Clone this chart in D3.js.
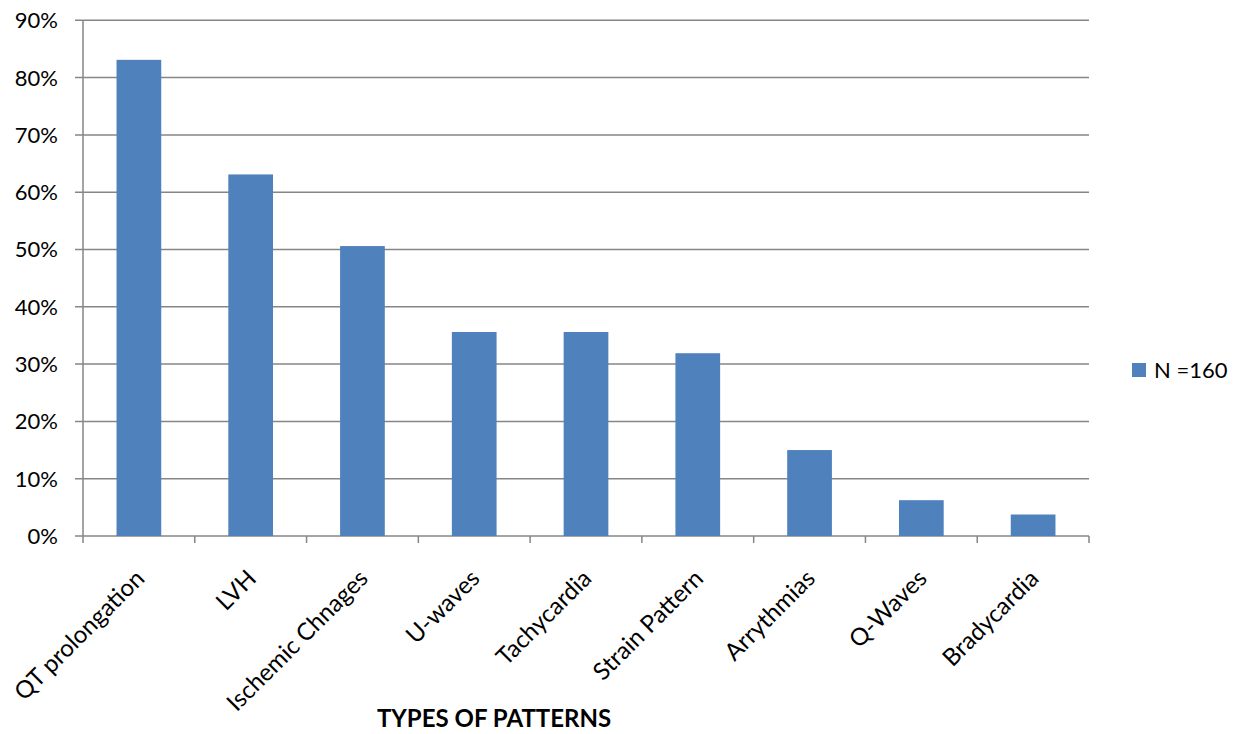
<!DOCTYPE html>
<html>
<head>
<meta charset="utf-8">
<script src="https://cdn.jsdelivr.net/npm/d3@7"></script>
<style>
  html, body { margin: 0; padding: 0; background: #fff; }
  svg { display: block; font-family: Lato, "Open Sans", sans-serif; }
</style>
</head>
<body>
<svg id="chart" width="1239" height="734"></svg>
<script>
// ECG pattern categories and share of patients (N = 160)
const categories = ["QT prolongation", "LVH", "Ischemic Chnages", "U-waves", "Tachycardia",
                    "Strain Pattern", "Arrythmias", "Q-Waves", "Bradycardia"];
const values = [0.831, 0.631, 0.506, 0.356, 0.356, 0.319, 0.15, 0.0625, 0.0375];
const yTicks = [0, 0.1, 0.2, 0.3, 0.4, 0.5, 0.6, 0.7, 0.8, 0.9];
const seriesName = "N =160";
const axisTitle = "TYPES OF PATTERNS";

const svg = d3.select("#chart");
const plot = { left: 83, right: 1089, top: 20.3, bottom: 536 };
const gridColor = "#868686";
const barColor = "#4f81bd";

const x = d3.scaleBand().domain(categories).range([plot.left, plot.right]).paddingInner(0.6).paddingOuter(0.3);
const xBand = d3.scaleBand().domain(categories).range([plot.left, plot.right]);
const y = d3.scaleLinear().domain([0, 0.9]).range([plot.bottom, plot.top]);

// horizontal gridlines with short outside ticks
svg.append("g").selectAll("line").data(yTicks).join("line")
  .attr("x1", plot.left - 8).attr("x2", plot.right)
  .attr("y1", d => y(d)).attr("y2", d => y(d))
  .attr("stroke", gridColor).attr("stroke-width", 1.5);

// y tick labels
svg.append("g").selectAll("text").data(yTicks).join("text")
  .attr("x", 58).attr("y", d => y(d))
  .attr("dy", "0.36em")
  .attr("text-anchor", "end")
  .attr("font-size", 22).attr("fill", "#000")
  .text(d3.format(".0%"));

// y axis line
svg.append("line")
  .attr("x1", plot.left).attr("x2", plot.left)
  .attr("y1", plot.top).attr("y2", plot.bottom + 7)
  .attr("stroke", gridColor).attr("stroke-width", 1.5);

// category boundary ticks on the x axis
const bounds = categories.map(c => xBand(c)).concat([plot.right]);
svg.append("g").selectAll("line").data(bounds.slice(1)).join("line")
  .attr("x1", d => d).attr("x2", d => d)
  .attr("y1", plot.bottom).attr("y2", plot.bottom + 7)
  .attr("stroke", gridColor).attr("stroke-width", 1.5);

// bars
svg.append("g").selectAll("rect").data(categories).join("rect")
  .attr("x", c => x(c))
  .attr("width", x.bandwidth())
  .attr("y", (c, i) => y(values[i]))
  .attr("height", (c, i) => y(0) - y(values[i]))
  .attr("fill", barColor);

// rotated category labels
svg.append("g").selectAll("text").data(categories).join("text")
  .attr("transform", c => {
    const cx = xBand(c) + xBand.bandwidth() / 2 + 7;
    return `translate(${cx},${plot.bottom + 44}) rotate(-45)`;
  })
  .attr("text-anchor", "end")
  .attr("font-size", 24).attr("fill", "#000")
  .text(c => c);

// axis title
svg.append("text")
  .attr("x", 494).attr("y", 727)
  .attr("text-anchor", "middle")
  .attr("font-size", 24).attr("font-weight", "bold").attr("fill", "#000")
  .text(axisTitle);

// legend
const legend = svg.append("g").attr("transform", "translate(1132,363)");
legend.append("rect").attr("width", 14).attr("height", 14).attr("fill", barColor);
legend.append("text").attr("x", 22).attr("y", 7).attr("dy", "0.36em")
  .attr("font-size", 22).attr("fill", "#000").text(seriesName);
</script>
</body>
</html>
